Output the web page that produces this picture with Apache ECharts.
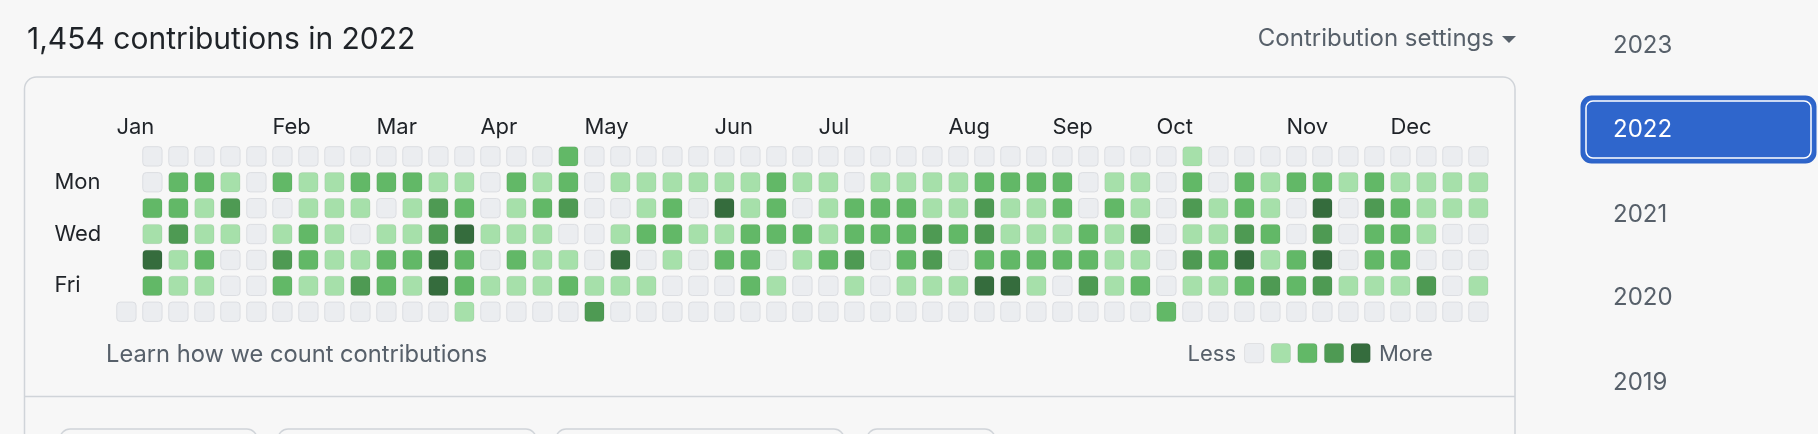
<!DOCTYPE html>
<html>
<head>
<meta charset="utf-8">
<script src="https://cdn.jsdelivr.net/npm/echarts@6/dist/echarts.min.js"></script>
<style>
html,body{margin:0;padding:0;background:#f7f7f7;}
#chart{width:1818px;height:434px;}
</style>
</head>
<body>
<div id="chart"></div>
<script>
// Contribution levels (0-4) per weekday row, one entry per week column (53 columns, 2022)
// null = day outside 2022 (Jan 1 2022 is a Saturday)
const sun = [null,0,0,0,0,0,0,0,0,0,0,0,0,0,0,0,0,2,0,0,0,0,0,0,0,0,0,0,0,0,0,0,0,0,0,0,0,0,0,0,0,1,0,0,0,0,0,0,0,0,0,0,0];
const mon = [null,0,2,2,1,0,2,1,1,2,2,2,1,1,0,2,1,2,0,1,1,1,1,1,1,2,1,1,0,1,1,1,1,2,2,2,2,0,1,1,0,2,0,2,1,2,2,1,2,1,1,1,1];
const tue = [null,2,2,1,3,0,0,1,1,1,0,1,3,2,0,1,2,3,0,0,1,2,0,4,1,2,0,1,2,2,2,1,1,3,1,1,2,0,2,1,0,3,1,2,1,0,4,0,3,2,1,1,1];
const wed = [null,1,3,1,1,0,1,2,1,0,1,1,3,4,1,1,1,0,0,1,2,2,1,1,2,2,2,1,2,2,2,3,2,3,1,1,1,2,1,3,0,1,1,3,2,0,3,0,2,2,1,0,0];
const thu = [null,4,1,2,0,0,3,2,1,1,2,2,4,2,0,2,1,1,0,4,0,1,0,2,2,0,1,2,3,0,2,3,0,2,2,2,2,2,1,1,0,3,2,4,1,2,4,0,2,2,0,0,0];
const fri = [null,2,1,1,0,0,2,1,1,3,2,1,4,2,1,1,1,2,1,1,1,0,0,0,2,1,0,0,1,0,1,1,1,4,4,1,0,3,1,2,0,1,1,2,3,2,3,1,1,1,3,0,1];
const sat = [0,0,0,0,0,0,0,0,0,0,0,0,0,1,0,0,0,0,3,0,0,0,0,0,0,0,0,0,0,0,0,0,0,0,0,0,0,0,0,0,2,0,0,0,0,0,0,0,0,0,0,0,0];

const weekdays = ['Sun','Mon','Tue','Wed','Thu','Fri','Sat'];
const shownDays = ['Mon','Wed','Fri'];
const monthNames = ['Jan','Feb','Mar','Apr','May','Jun','Jul','Aug','Sep','Oct','Nov','Dec'];
const monthStartCols = [0,6,10,14,18,23,27,32,36,40,45,49];
const years = ['2023','2022','2021','2020','2019'];
const titleText = '1,454 contributions in 2022';

const levelColors = ['#ebedf0','#a6e0aa','#62b867','#4e9a53','#356c3d'];
const FONT = 'Inter, "Liberation Sans", Arial, sans-serif';

const rows = [sun, mon, tue, wed, thu, fri, sat];
const cells = [];
rows.forEach((arr, r) => arr.forEach((v, c) => { if (v !== null) cells.push([c, r, v]); }));

const monthAt = {};
monthStartCols.forEach((c, i) => monthAt[c] = monthNames[i]);

const CELL = 19.3;

const chart = echarts.init(document.getElementById('chart'), null, {renderer: 'canvas'});

const graphics = [];
// outer box
graphics.push({type:'rect', shape:{x:24.5, y:77, width:1490.5, height:380, r:12}, style:{fill:'#f7f7f7', stroke:'#d0d4d9', lineWidth:1.5}, z:-10});
graphics.push({type:'line', shape:{x1:24.5, y1:396.5, x2:1515, y2:396.5}, style:{stroke:'#d0d4d9', lineWidth:1.5}, z:-9});
// bottom partial buttons
[[60,257],[278,536],[556,844],[867,995]].forEach(b => {
  graphics.push({type:'rect', shape:{x:b[0], y:429, width:b[1]-b[0], height:30, r:10}, style:{fill:'#f7f7f7', stroke:'#d0d4d9', lineWidth:1.5}, z:-8});
});
// contribution settings
graphics.push({type:'text', x:1494, y:39, style:{text:'Contribution settings', font:'24px '+FONT, fill:'#57606a', textAlign:'right', textVerticalAlign:'middle'}});
graphics.push({type:'polygon', shape:{points:[[1502,36],[1516,36],[1509,43]]}, style:{fill:'#57606a'}});
// learn text
graphics.push({type:'text', x:106, y:355, style:{text:'Learn how we count contributions', font:'23.7px '+FONT, fill:'#57606a', textVerticalAlign:'middle'}});
// legend
graphics.push({type:'text', x:1236, y:354, style:{text:'Less', font:'22px '+FONT, fill:'#57606a', textAlign:'right', textVerticalAlign:'middle'}});
levelColors.forEach((c, i) => {
  graphics.push({type:'rect', shape:{x:1244.6 + i*26.6, y:343.5, width:CELL, height:CELL, r:3.5}, style:{fill:c, stroke:'rgba(27,31,35,0.08)', lineWidth:1}});
});
graphics.push({type:'text', x:1379, y:354, style:{text:'More', font:'22px '+FONT, fill:'#57606a', textVerticalAlign:'middle'}});
// year list
const yearY = [46, 130, 215, 298, 383];
graphics.push({type:'rect', shape:{x:1581.5, y:96.5, width:234, height:66, r:10}, style:{fill:'#2f66cc', stroke:'#2d63c8', lineWidth:2}});
graphics.push({type:'rect', shape:{x:1586, y:101, width:225, height:57, r:7}, style:{fill:'#2f66cc', stroke:'#ffffff', lineWidth:1.5}});
years.forEach((yv, i) => {
  graphics.push({type:'text', x:1613, y:yearY[i], style:{text:yv, font:'24px '+FONT, fill: i===1 ? '#ffffff' : '#57606a', textVerticalAlign:'middle'}});
});

chart.setOption({
  animation: false,
  backgroundColor: '#f7f7f7',
  title: {
    text: titleText, left: 22, top: 20,
    textStyle: {fontFamily: FONT, fontSize: 30, fontWeight: 'normal', color: '#1f2328'}
  },
  grid: {left: 113.4, top: 143.4, width: 1378, height: 181.3},
  xAxis: {
    type: 'value', position: 'top', min: 0, max: 53, interval: 1,
    axisLine: {show: false}, axisTick: {show: false}, splitLine: {show: false},
    axisLabel: {
      show: true, margin: 5, align: 'left', padding: [0,0,0,3],
      fontFamily: FONT, fontSize: 22, color: '#1f2328',
      formatter: v => monthAt[v] || ''
    }
  },
  yAxis: {
    type: 'category', data: weekdays, inverse: true,
    axisLine: {show: false}, axisTick: {show: false}, splitLine: {show: false},
    axisLabel: {
      interval: 0, margin: 59, align: 'left',
      fontFamily: FONT, fontSize: 22, color: '#1f2328',
      formatter: v => shownDays.includes(v) ? v : ''
    }
  },
  series: [{
    type: 'custom',
    data: cells,
    encode: {x: 0, y: 1},
    renderItem: (params, api) => {
      const col = api.value(0), row = api.value(1), lvl = api.value(2);
      const p = api.coord([col, row]);
      const sz = api.size([1, 1]);
      const x = p[0] + (sz[0] - CELL) / 2;
      const y = p[1] - CELL / 2;
      return {
        type: 'rect',
        shape: {x: x, y: y, width: CELL, height: CELL, r: 3.5},
        style: {fill: levelColors[lvl], stroke: lvl === 0 ? '#dcdee2' : 'rgba(27,31,35,0.06)', lineWidth: 1}
      };
    }
  }],
  graphic: graphics
});
</script>
</body>
</html>
